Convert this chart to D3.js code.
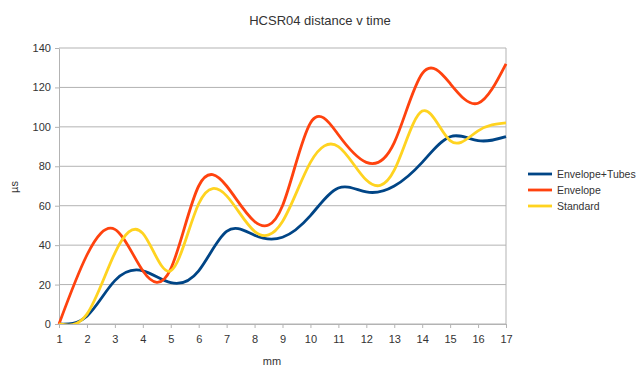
<!DOCTYPE html>
<html>
<head>
<meta charset="utf-8">
<script src="https://cdn.jsdelivr.net/npm/d3@7"></script>
<style>
  body { margin: 0; background: #fff; }
  svg { font-family: "Liberation Sans", Arial, sans-serif; }
</style>
</head>
<body>
<svg id="chart"></svg>
<script>
const xValues = [1, 2, 3, 4, 5, 6, 7, 8, 9, 10, 11, 12, 13, 14, 15, 16, 17];
const envelopeTubes = [0, 4, 22, 27, 21, 27, 47, 45, 44, 55, 69, 67, 70, 82, 95, 93, 95];
const envelope = [0, 35, 48, 27, 28, 70, 70, 52, 60, 102, 96, 82, 92, 127, 122, 112, 132];
const standard = [0, 5, 36, 46, 27, 61, 65, 47, 52, 82, 90, 73, 78, 108, 93, 98, 102];
const yTicks = [0, 20, 40, 60, 80, 100, 120, 140];

const seriesNames = ["Envelope+Tubes", "Envelope", "Standard"];
const seriesColors = ["#004586", "#ff420e", "#ffd320"];
const series = [envelopeTubes, envelope, standard];

const width = 640;
const height = 378;
const margin = { top: 48, right: 134, bottom: 54, left: 59 };

const svg = d3.select("#chart")
    .attr("width", width)
    .attr("height", height);

const x = d3.scaleLinear()
    .domain([1, 17])
    .range([margin.left, width - margin.right]);

const y = d3.scaleLinear()
    .domain([0, 140])
    .range([height - margin.bottom, margin.top]);

// grid lines
svg.append("g")
    .selectAll("line")
    .data(yTicks)
    .enter()
    .append("line")
    .attr("x1", x(1))
    .attr("x2", x(17))
    .attr("y1", d => y(d))
    .attr("y2", d => y(d))
    .attr("stroke", "#b3b3b3")
    .attr("stroke-width", 1);

// right border
svg.append("line")
    .attr("x1", x(17)).attr("x2", x(17))
    .attr("y1", y(0)).attr("y2", y(140))
    .attr("stroke", "#b3b3b3");

const xAxis = svg.append("g")
    .attr("transform", `translate(0, ${y(0)})`)
    .call(d3.axisBottom(x).tickValues(xValues).tickSize(4).tickSizeOuter(0).tickFormat(d3.format("d")));

const yAxis = svg.append("g")
    .attr("transform", `translate(${x(1)}, 0)`)
    .call(d3.axisLeft(y).tickValues(yTicks).tickSize(4).tickSizeOuter(0));

[xAxis, yAxis].forEach(a => {
    a.select(".domain").attr("stroke", "#b3b3b3");
    a.selectAll(".tick line").attr("stroke", "#b3b3b3");
    a.selectAll("text").attr("fill", "#333").style("font-size", "11px");
});
xAxis.selectAll("text").attr("dy", "1.05em");
yAxis.selectAll("text").attr("dx", "-0.1em");

svg.append("clipPath").attr("id", "clip")
    .append("rect")
    .attr("x", x(1) - 2).attr("y", y(140) - 2)
    .attr("width", x(17) - x(1) + 4).attr("height", y(0) - y(140) + 2);

const line = d3.line()
    .x((d, i) => x(xValues[i]))
    .y(d => y(d))
    .curve(d3.curveNatural);

svg.append("g")
    .attr("clip-path", "url(#clip)")
    .selectAll("path")
    .data(series)
    .enter()
    .append("path")
    .attr("d", d => line(d))
    .attr("fill", "none")
    .attr("stroke", (d, i) => seriesColors[i])
    .attr("stroke-width", 2.8)
    .attr("stroke-linejoin", "round");

// title
svg.append("text")
    .attr("x", 320)
    .attr("y", 25)
    .attr("text-anchor", "middle")
    .style("font-size", "13px")
    .attr("fill", "#333")
    .text("HCSR04 distance v time");

svg.append("text")
    .attr("x", 272)
    .attr("y", 365)
    .attr("text-anchor", "middle")
    .style("font-size", "11px")
    .attr("fill", "#333")
    .text("mm");

svg.append("text")
    .attr("transform", "translate(18, 187) rotate(-90)")
    .attr("text-anchor", "middle")
    .style("font-size", "11px")
    .attr("fill", "#333")
    .text("µs");

// legend
const legend = svg.append("g")
    .attr("transform", "translate(528, 174)");

seriesNames.forEach((name, i) => {
    legend.append("line")
        .attr("x1", 0).attr("x2", 24)
        .attr("y1", i * 16).attr("y2", i * 16)
        .attr("stroke", seriesColors[i])
        .attr("stroke-width", 2.8);
    legend.append("text")
        .attr("x", 29)
        .attr("y", i * 16 + 4)
        .style("font-size", "10.5px")
        .attr("fill", "#333")
        .text(name);
});
</script>
</body>
</html>
